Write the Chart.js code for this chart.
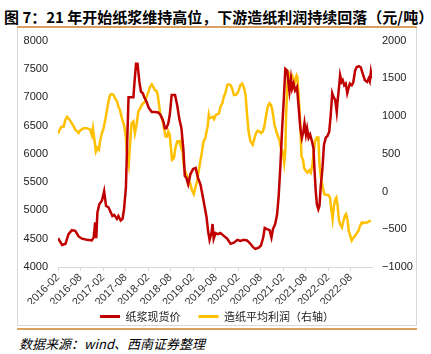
<!DOCTYPE html>
<html>
<head>
<meta charset="utf-8">
<script src="https://cdn.jsdelivr.net/npm/chart.js@4"></script>
<style>
body { margin:0; width:431px; height:354px; background:#fff; position:relative; overflow:hidden; }
#title { position:absolute; left:4px; top:6px; font:bold 15px "Noto Sans CJK SC", sans-serif; color:#000; white-space:nowrap; }
.rule { position:absolute; left:17px; width:400px; height:2px; background:#d8a25e; }
#box { position:absolute; left:17px; top:28px; width:398px; height:297px; border:1px solid #d9d9d9; border-top:none; }
#c { position:absolute; left:18px; top:24px; }
#src { position:absolute; left:19px; top:334px; font:italic 13px "Noto Sans CJK SC", sans-serif; color:#000; white-space:nowrap; }
</style>
</head>
<body>
<div id="title">图 7：21 年开始纸浆维持高位，下游造纸利润持续回落（元/吨）</div>
<div class="rule" style="top:26px"></div>
<div id="box"></div>
<div class="rule" style="top:328px"></div>
<div id="src">数据来源：wind、西南证券整理</div>
<canvas id="c" width="398" height="308"></canvas>
<script>
// x = months since 2016-02
const xTicks = ['2016-02','2016-08','2017-02','2017-08','2018-02','2018-08','2019-02','2019-08','2020-02','2020-08','2021-02','2021-08','2022-02','2022-08'];

const pulpT = [0,1.1,2,2.8,3.7,4.6,5.5,6.4,7.7,9,9.5,9.9,10.2,10.5,11,11.7,12.3,12.8,13.5,13.9,14.5,15,15.7,16.1,16.7,17.2,17.6,18.1,18.4,18.8,19.5,20.1,20.4,20.8,21.2,21.7,22.1,22.6,23,23.6,24.2,25,25.8,26.7,27.3,28.1,28.5,28.9,29.4,29.8,30.3,31.2,31.8,32.3,32.9,33.4,33.8,34.2,34.7,35.3,36,36.7,37.3,38,38.8,39.6,40,40.4,40.9,41.2,41.5,42,42.6,43.3,44.2,45.1,46,46.9,47.8,48.6,49.5,50.4,51.3,52,52.6,53.5,54.1,54.7,55.1,55.7,56.4,56.9,57.3,57.9,58.4,58.8,59.3,59.7,60.2,60.6,61.1,61.5,61.7,62.1,62.4,62.8,63.2,63.7,64.1,64.6,65,65.4,65.7,66.1,66.4,66.8,67.2,67.7,68.1,68.4,68.7,69,69.4,69.7,70,70.5,70.9,71.4,71.8,72.3,72.7,73.1,73.4,73.9,74.3,74.6,75,75.2,75.6,75.9,76.3,76.7,77.1,77.4,77.8,78.3,78.7,79.2,79.6,80.2,80.7,81.2,81.8,82.4,82.8,83.1,83.4,83.7];
const pulp = [4510,4390,4410,4580,4650,4640,4540,4500,4480,4470,4520,4790,4510,4960,5110,5170,5340,5080,5050,4990,4900,4920,4850,4900,4820,4850,5020,5400,6100,7000,7000,7000,7270,7590,7590,7270,7100,7070,7000,6920,6810,6740,6740,6730,6690,6570,6450,6450,6540,6690,7040,7040,6850,6630,6450,6100,5610,5580,5460,5640,5730,5750,5580,5450,5170,4880,4640,4480,4600,4760,4500,4600,4580,4600,4550,4500,4410,4430,4480,4460,4480,4470,4410,4350,4320,4340,4380,4520,4690,4670,4650,4520,4670,4760,4930,5230,5810,6390,6980,7500,7470,7210,7100,7330,7150,7240,7120,7180,6860,6450,6280,6390,6540,6340,6450,6280,6340,6220,6100,5690,5340,5110,5020,5080,5400,5750,6160,6290,6310,6390,6690,7070,7010,6950,6740,6980,7240,7390,7270,7300,7210,7240,7070,7150,7240,7210,7260,7470,7530,7550,7530,7420,7300,7270,7330,7280,7450,7330];

const profitT = [0,0.4,0.9,1.5,1.95,2.4,2.8,3.5,4.2,4.6,5.2,5.5,5.9,6.8,7.7,8.6,9,9.3,9.7,10.1,10.5,10.9,11.2,11.7,12.1,12.6,13,13.5,13.9,14.3,14.8,15.2,15.7,16.1,16.5,17,17.3,17.7,18.1,18.4,18.85,19.2,19.6,20.1,20.5,21,21.4,21.9,22.3,22.7,23.2,23.6,24.1,24.5,25,25.4,25.8,26.3,26.6,27,27.3,27.8,28.2,28.7,29.1,29.4,29.8,30.1,30.4,30.9,31.3,31.8,32.3,32.7,32.9,33.2,33.5,34,34.4,34.9,35.3,35.75,36.2,36.6,37.1,37.5,38,38.4,38.8,39.3,39.6,39.9,40.2,40.4,40.9,41.3,41.6,42.1,42.9,43.3,43.8,44.2,44.7,45.1,45.5,46,46.4,46.9,47.3,47.8,48.2,48.6,49.1,49.5,50,50.4,50.8,51.3,51.9,52.4,52.8,53.2,53.7,54.1,54.6,55,55.5,55.9,56.4,56.8,57.2,57.7,58.1,58.5,59,59.4,59.9,60.3,60.6,60.8,61.2,61.6,61.9,62.4,62.8,63.2,63.6,63.8,64.2,64.6,64.9,65.3,65.6,66.1,66.5,67,67.4,67.8,68.2,68.5,69,69.4,69.7,70.1,70.6,71,71.6,72.1,72.5,72.9,73.2,73.5,73.9,74.2,74.5,74.9,75.2,75.7,76.1,76.5,76.8,77.2,77.5,77.9,78.3,78.7,79.2,79.6,80.1,80.5,81,81.4,81.9,82.4,82.9,83.4];
const profit = [770,810,860,860,950,990,970,920,860,820,795,775,810,840,840,820,750,840,690,530,580,555,665,775,830,950,1060,1210,1280,1290,1280,1235,1200,1125,1080,980,930,860,710,510,360,620,905,930,775,905,1060,1100,1145,1170,1190,1255,1320,1385,1420,1385,1345,1330,1275,1125,1015,970,840,730,730,795,750,580,420,445,580,665,665,600,665,535,360,250,205,160,95,10,-35,50,140,270,420,535,665,710,795,860,1015,970,980,990,960,1015,1035,1125,1170,1255,1320,1410,1420,1410,1365,1280,1280,1300,1345,1410,1430,1385,1280,1015,795,665,620,710,775,805,795,775,795,860,1015,1125,1170,1145,1060,885,815,750,685,580,535,380,535,1015,1455,1560,1520,1540,1495,1455,1540,1520,1235,885,465,425,315,270,250,280,250,355,535,665,715,715,355,180,50,-35,-45,-45,-80,-255,-365,-210,-105,-80,-170,-385,-430,-475,-385,-320,-300,-385,-520,-585,-650,-615,-585,-555,-520,-455,-410,-420,-410,-410,-395,-385];

const tickFont = { family: 'Arial, "Liberation Sans"', size: 11 };

new Chart(document.getElementById('c'), {
  type: 'line',
  data: {
    datasets: [
      {
        label: '纸浆现货价',
        data: pulpT.map((t, i) => ({ x: t, y: pulp[i] })),
        borderColor: '#c00000',
        backgroundColor: '#c00000',
        borderWidth: 2.5,
        pointRadius: 0,
        yAxisID: 'y'
      },
      {
        label: '造纸平均利润（右轴）',
        data: profitT.map((t, i) => ({ x: t, y: profit[i] })),
        borderColor: '#ffc000',
        backgroundColor: '#ffc000',
        borderWidth: 2.5,
        pointRadius: 0,
        yAxisID: 'y1'
      }
    ]
  },
  options: {
    responsive: false,
    animation: false,
    layout: { padding: { top: 0, left: 0, right: 0, bottom: 0 } },
    plugins: {
      legend: {
        position: 'bottom',
        labels: {
          boxWidth: 20,
          boxHeight: 3,
          padding: 7,
          color: '#222',
          font: { family: '"Noto Sans CJK SC"', size: 11 },
          generateLabels: chart => Chart.defaults.plugins.legend.labels.generateLabels(chart).map((l, i) => {
            l.lineWidth = 0;
            if (i === 0) l.text += '\u3000';
            return l;
          })
        }
      },
      tooltip: { enabled: false }
    },
    scales: {
      x: {
        type: 'linear',
        min: 0,
        max: 83.7,
        afterBuildTicks: axis => { axis.ticks = xTicks.map((l, i) => ({ value: i * 6 })); },
        afterFit: axis => { axis.height = 37; },
        ticks: {
          autoSkip: false,
          maxRotation: 45,
          minRotation: 45,
          padding: 0,
          color: '#333',
          font: tickFont,
          callback: (v, i) => xTicks[i]
        },
        grid: { drawOnChartArea: false, drawTicks: true, tickLength: 4, color: '#d9d9d9' },
        border: { display: true, color: '#d9d9d9' }
      },
      y: {
        position: 'left',
        min: 4000,
        max: 8000,
        afterFit: axis => { axis.width = 40; },
        ticks: { stepSize: 500, padding: 10, color: '#222', font: tickFont, callback: v => String(v) },
        grid: { display: false, drawTicks: false },
        border: { display: false }
      },
      y1: {
        position: 'right',
        min: -1000,
        max: 2000,
        afterFit: axis => { axis.width = 44; },
        ticks: { stepSize: 500, padding: 10, color: '#222', font: tickFont, callback: v => v < 0 ? '\u2212' + (-v) : String(v) },
        grid: { display: false, drawTicks: false },
        border: { display: false }
      }
    }
  }
});
</script>
</body>
</html>
